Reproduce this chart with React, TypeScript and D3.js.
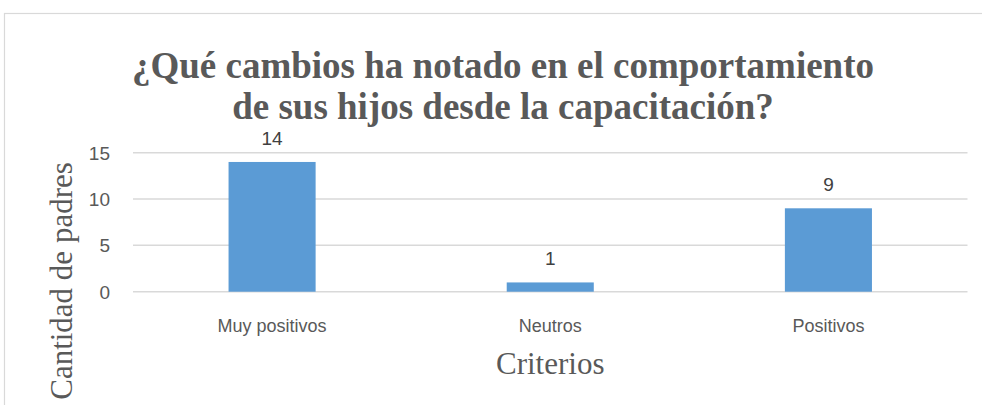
import React from "react";
import * as d3 from "d3";

const categories: string[] = ["Muy positivos", "Neutros", "Positivos"];
const values: number[] = [14, 1, 9];
const yTicks: number[] = [0, 5, 10, 15];
const titleLines: string[] = [
  "¿Qué cambios ha notado en el comportamiento",
  "de sus hijos desde la capacitación?",
];
const xTitle = "Criterios";
const yTitle = "Cantidad de padres";

const W = 982;
const H = 405;
const plotLeft = 133;
const plotRight = 967.5;
const plotTop = 152.7;
const plotBottom = 291.7;

export default function App() {
  const x = d3
    .scaleBand<string>()
    .domain(categories)
    .range([plotLeft, plotRight])
    .paddingInner(0.687)
    .paddingOuter(0.3435);
  const y = d3.scaleLinear().domain([0, 15]).range([plotBottom, plotTop]);
  const sans = "'Liberation Sans', Arial, sans-serif";
  const serif = "'Liberation Serif', 'Times New Roman', serif";
  const grey = "#595959";

  return (
    <svg
      width={W}
      height={H}
      style={{ position: "fixed", left: 0, top: 0, background: "#fff" }}
    >
      <rect x={4.5} y={13.5} width={1100} height={500} fill="#fff" stroke="#d9d9d9" strokeWidth={1.2} />
      {titleLines.map((t, i) => (
        <text
          key={i}
          x={503}
          y={78 + i * 41}
          textAnchor="middle"
          fontFamily={serif}
          fontWeight="bold"
          fontSize={37}
          fill={grey}
        >
          {t}
        </text>
      ))}
      {yTicks.map((t) => (
        <g key={t}>
          <line
            x1={plotLeft}
            x2={plotRight}
            y1={y(t)}
            y2={y(t)}
            stroke="#d9d9d9"
            strokeWidth={1.5}
          />
          <text
            x={110}
            y={y(t)}
            dy="0.36em"
            textAnchor="end"
            fontFamily={sans}
            fontSize={19}
            fill={grey}
          >
            {t}
          </text>
        </g>
      ))}
      {categories.map((c, i) => (
        <g key={c}>
          <rect
            x={x(c)}
            y={y(values[i])}
            width={x.bandwidth()}
            height={y(0) - y(values[i])}
            fill="#5b9bd5"
          />
          <text
            x={(x(c) as number) + x.bandwidth() / 2}
            y={y(values[i]) - 17}
            textAnchor="middle"
            fontFamily={sans}
            fontSize={19}
            fill="#404040"
          >
            {values[i]}
          </text>
          <text
            x={(x(c) as number) + x.bandwidth() / 2}
            y={331.5}
            textAnchor="middle"
            fontFamily={sans}
            fontSize={18}
            fill={grey}
          >
            {c}
          </text>
        </g>
      ))}
      <text
        x={(plotLeft + plotRight) / 2}
        y={374}
        textAnchor="middle"
        fontFamily={serif}
        fontSize={31}
        fill={grey}
      >
        {xTitle}
      </text>
      <text
        transform={`translate(72,281) rotate(-90)`}
        textAnchor="middle"
        fontFamily={serif}
        fontSize={31}
        fill={grey}
      >
        {yTitle}
      </text>
    </svg>
  );
}
